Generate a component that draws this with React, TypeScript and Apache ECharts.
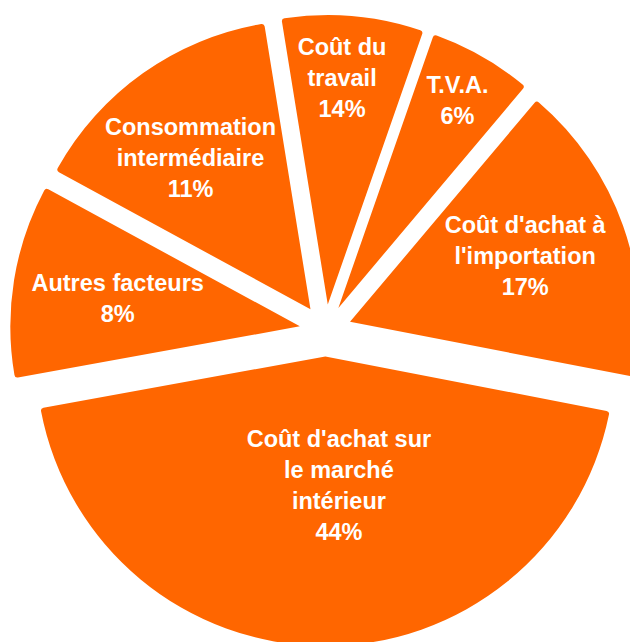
import React, { useEffect, useRef } from "react";
import * as echarts from "echarts";

// Slices in clockwise order starting at the top (visual share of the circle)
const categories = [
  "Coût du travail",
  "T.V.A.",
  "Coût d'achat à l'importation",
  "Coût d'achat sur le marché intérieur",
  "Autres facteurs",
  "Consommation intermédiaire",
];
const sliceValues = [7.9, 5.8, 16.9, 44.1, 10.8, 14.5];
// Percentages printed on the chart
const printedPercents = ["14%", "6%", "17%", "44%", "8%", "11%"];
// Label text lines as wrapped in the picture
const labelLines = [
  ["Coût du", "travail"],
  ["T.V.A."],
  ["Coût d'achat à", "l'importation"],
  ["Coût d'achat sur", "le marché", "intérieur"],
  ["Autres facteurs"],
  ["Consommation", "intermédiaire"],
];

// Layout / style settings
const CENTER: [number, number] = [325.5, 330.5];
const RADIUS = 289.5;
const START_ANGLE = 99.2;
const EXPLODE = 26;
const ORANGE = "#FF6600";
// label anchor inside each slice: radial fraction of radius, angular fraction of slice span
const labelRadial = [0.79, 0.83, 0.65, 0.45, 0.64, 0.67];
const labelAngular = [0.45, 0.51, 0.48, 0.46, 0.49, 0.44];

export default function App() {
  const ref = useRef<HTMLDivElement>(null);

  useEffect(() => {
    if (!ref.current) return;
    const chart = echarts.init(ref.current, undefined, { renderer: "svg" });

    const total = sliceValues.reduce((a, b) => a + b, 0);
    // compute slice angles the same way the pie lays them out (clockwise)
    const anchors: [number, number][] = [];
    let cur = START_ANGLE;
    const toRad = Math.PI / 180;
    sliceValues.forEach((v, i) => {
      const span = (v / total) * 360;
      const mid = cur - span / 2;
      const apexX = CENTER[0] + EXPLODE * Math.cos(mid * toRad);
      const apexY = CENTER[1] - EXPLODE * Math.sin(mid * toRad);
      const a = cur - labelAngular[i] * span;
      const r = labelRadial[i] * 288;
      anchors.push([apexX + r * Math.cos(a * toRad), apexY - r * Math.sin(a * toRad)]);
      cur -= span;
    });

    chart.setOption({
      animation: false,
      backgroundColor: "#ffffff",
      series: [
        {
          type: "pie",
          z: 2,
          center: CENTER,
          radius: [0, RADIUS],
          startAngle: START_ANGLE,
          clockwise: true,
          selectedMode: "multiple",
          selectedOffset: EXPLODE,
          avoidLabelOverlap: false,
          itemStyle: { color: ORANGE, borderRadius: 3, borderWidth: 0 },
          label: { show: false },
          labelLine: { show: false },
          emphasis: { disabled: true },
          select: {
            itemStyle: { color: ORANGE, borderWidth: 0 },
            label: { show: false },
          },
          data: categories.map((name, i) => ({
            name,
            value: sliceValues[i],
            selected: true,
          })),
        },
      ],
      graphic: {
        elements: anchors.map((pt, i) => ({
          type: "text",
          x: pt[0],
          y: pt[1],
          z: 100,
          zlevel: 0,
          silent: true,
          style: {
            text: [...labelLines[i], printedPercents[i]].join("\n"),
            fill: "#ffffff",
            fontFamily: "'Liberation Sans', Arial, sans-serif",
            fontWeight: "bold",
            fontSize: 23.5,
            lineHeight: 31,
            align: "center",
            verticalAlign: "middle",
          },
        })),
      },
    });

    return () => chart.dispose();
  }, []);

  return (
    <div
      ref={ref}
      style={{ position: "absolute", left: 0, top: 0, width: 630, height: 642 }}
    />
  );
}
